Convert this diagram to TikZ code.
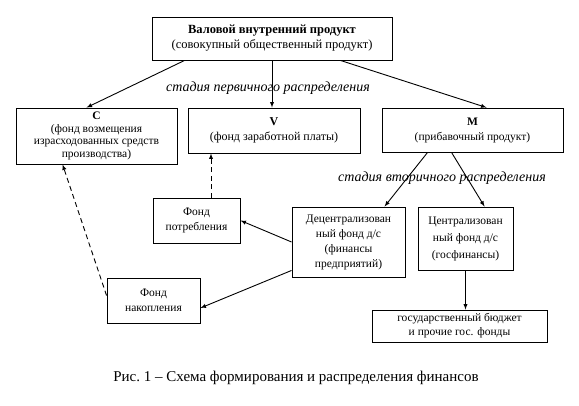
\documentclass[tikz,border=0pt]{standalone}
\usepackage{fontspec}
\setmainfont{Liberation Serif}

\begin{document}
\begin{tikzpicture}[x=1pt, y=-1pt, >=latex, line width=0.9pt,
  box/.style={draw, rectangle, align=center, inner sep=2pt, font=\fontsize{11.5}{12.5}\selectfont},
  stage/.style={font=\fontsize{14}{16}\selectfont\itshape},
  fund/.style={->, dash pattern=on 5pt off 3.5pt}]
\useasboundingbox (0,0) rectangle (579,406);
% Finance distribution scheme
\node[box, minimum width=240pt, minimum height=43pt, font=\fontsize{12.5}{15}\selectfont] (gdp) at (272,38.5) {\textbf{Валовой внутренний продукт}\\(совокупный общественный продукт)};
\node[box, minimum width=161pt, minimum height=56pt] (c) at (96.5,136) {\textbf{C}\\(фонд возмещения\\израсходованных средств\\производства)};
\node[box, minimum width=172pt, minimum height=45pt, font=\fontsize{12}{15}\selectfont] (v) at (274,130.5) {\textbf{V}\\(фонд заработной платы)};
\node[box, minimum width=181pt, minimum height=44pt, font=\fontsize{11.5}{15}\selectfont] (m) at (472.5,130) {\textbf{M}\\(прибавочный продукт)};
\node[box, minimum width=87pt, minimum height=45pt, font=\fontsize{11.5}{15}\selectfont] (potr) at (196.5,220.5) {Фонд\\потребления};
\node[box, minimum width=113pt, minimum height=70pt, font=\fontsize{11.5}{15}\selectfont] (decen) at (348.5,242) {Децентрализован\\ный фонд д/с\\(финансы\\предприятий)};
\node[box, minimum width=95pt, minimum height=63pt, font=\fontsize{11.5}{17}\selectfont] (cen) at (465.5,238.5) {Централизован\\ный фонд д/с\\(госфинансы)};
\node[box, minimum width=93pt, minimum height=45pt, font=\fontsize{11.5}{15}\selectfont] (nakop) at (153.5,300.5) {Фонд\\накопления};
\node[box, minimum width=175pt, minimum height=32pt, font=\fontsize{11.5}{14}\selectfont] (budget) at (459.5,326) {государственный бюджет\\и прочие гос. фонды};

\node[stage] (first) at (268,88) {стадия первичного распределения};
\node[stage] (second) at (442,178) {стадия вторичного распределения};

\draw[->] ([xshift=33pt]gdp.south west) -- ([xshift=71pt]c.north west);
\draw[->] (gdp.south) -- (gdp.south |- v.north);
\draw[->] ([xshift=-52pt]gdp.south east) -- ([xshift=105pt]m.north west);
\draw[->] ([xshift=46pt]m.south west) -- ([xshift=93pt]decen.north west);
\draw[->] ([xshift=70pt]m.south west) -- ([xshift=67pt]cen.north west);
\draw[->] (decen.west) -- (potr.east);
\draw[->] ([yshift=7pt]decen.south west) -- ([yshift=-7.5pt]nakop.east);
\draw[->] (cen.south) -- (cen.south |- budget.north);
\draw[fund] ([xshift=14.5pt]potr.north) -- ([xshift=14.5pt]potr.north |- v.south);
\draw[fund] ([yshift=5pt]nakop.west) -- ([xshift=47pt]c.south west);

\node[font=\fontsize{15}{17}\selectfont] (caption) at (296,378) {Рис.~1 – Схема формирования и распределения финансов};
\end{tikzpicture}
\end{document}
